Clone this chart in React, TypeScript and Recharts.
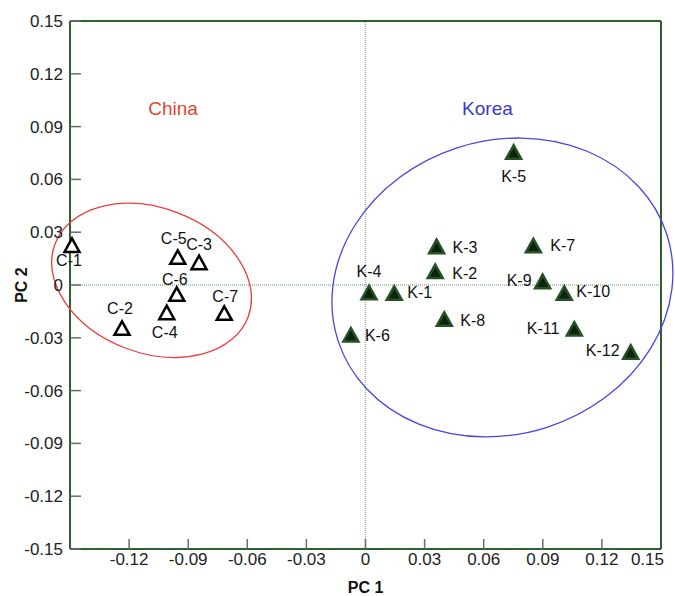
import { ScatterChart, Scatter, XAxis, YAxis, ReferenceLine } from "recharts";

// PCA scores
const CHINA_NAMES = ["C-1", "C-2", "C-3", "C-4", "C-5", "C-6", "C-7"];
const CHINA_PC1 = [-0.149, -0.1236, -0.0845, -0.1009, -0.0953, -0.0958, -0.0717];
const CHINA_PC2 = [0.0225, -0.0246, 0.0127, -0.0157, 0.0157, -0.0053, -0.0161];

const KOREA_NAMES = ["K-1", "K-2", "K-3", "K-4", "K-5", "K-6", "K-7", "K-8", "K-9", "K-10", "K-11", "K-12"];
const KOREA_PC1 = [0.0146, 0.0354, 0.0361, 0.0018, 0.0752, -0.0074, 0.0852, 0.04, 0.0899, 0.1009, 0.106, 0.1346];
const KOREA_PC2 = [-0.0047, 0.0076, 0.0218, -0.0044, 0.0754, -0.0284, 0.0223, -0.0195, 0.0019, -0.0047, -0.025, -0.0382];

const X_TICKS = [-0.12, -0.09, -0.06, -0.03, 0, 0.03, 0.06, 0.09, 0.12, 0.15];
const Y_TICKS = [-0.15, -0.12, -0.09, -0.06, -0.03, 0, 0.03, 0.06, 0.09, 0.12, 0.15];

// group regions: centre in PC units, semi-axes in PC1 units, tilt in degrees
const CHINA_REGION = [{ x: -0.1086, y: 0.0026, a: 0.0524, b: 0.0368, angle: 20.7 }];
const KOREA_REGION = [{ x: 0.0695, y: -0.0014, a: 0.0877, b: 0.0745, angle: -18 }];

const GROUP_TITLES = [
  { x: -0.0977, y: 0.1003, name: "China" },
  { x: 0.0619, y: 0.1003, name: "Korea" },
];

// label offsets (px) relative to each marker
const LABEL_OFFSET: Record<string, [number, number]> = {
  "C-1": [-3, 21],
  "C-2": [-2, -14],
  "C-3": [0, -13],
  "C-4": [-2, 25],
  "C-5": [-4, -13],
  "C-6": [-2, -9],
  "C-7": [1, -11],
  "K-1": [13, 5],
  "K-2": [17, 7],
  "K-3": [16, 6],
  "K-4": [0, -16],
  "K-5": [0, 30],
  "K-6": [14, 6],
  "K-7": [17, 5],
  "K-8": [16, 7],
  "K-9": [-11, 4],
  "K-10": [12, 4],
  "K-11": [-15, 5],
  "K-12": [-11, 4],
};

const W = 675;
const H = 596;
const MARGIN = { top: 20, right: 13, bottom: 0, left: 8 };
const Y_AXIS_W = 62;
const X_AXIS_H = 47;
const PLOT_W = W - MARGIN.left - MARGIN.right - Y_AXIS_W - 1;

const FRAME = "#2f5f2f";
const TICK = "#6a6a6a";
const RED = "#ee3b3b";
const BLUE = "#4646dc";

const china = CHINA_NAMES.map((name, i) => ({ name, x: CHINA_PC1[i], y: CHINA_PC2[i] }));
const korea = KOREA_NAMES.map((name, i) => ({ name, x: KOREA_PC1[i], y: KOREA_PC2[i] }));

const fmt = (v: number) => (v === 0 ? "0" : v.toFixed(2));

function triangle(cx: number, cy: number) {
  return `M${cx},${cy - 7}L${cx + 7.5},${cy + 6.5}L${cx - 7.5},${cy + 6.5}Z`;
}

function pointLabel(cx: number, cy: number, name: string) {
  const [dx, dy] = LABEL_OFFSET[name] ?? [0, -12];
  const anchor = Math.abs(dx) < 6 ? "middle" : dx > 0 ? "start" : "end";
  return (
    <text x={cx + dx} y={cy + dy} textAnchor={anchor} fontSize={16} fill="#111">
      {name}
    </text>
  );
}

const ChinaShape = (props: any) => {
  const { cx, cy, payload } = props;
  return (
    <g>
      <path d={triangle(cx, cy)} fill="#fff" stroke="#000" strokeWidth={2.5} />
      {pointLabel(cx, cy, payload.name)}
    </g>
  );
};

const KoreaShape = (props: any) => {
  const { cx, cy, payload } = props;
  return (
    <g>
      <path d={triangle(cx, cy)} fill="#0d230d" stroke="#255225" strokeWidth={2.5} />
      {pointLabel(cx, cy, payload.name)}
    </g>
  );
};

const regionShape = (color: string) => (props: any) => {
  const { cx, cy, payload } = props;
  const k = PLOT_W / 0.3;
  return (
    <ellipse
      cx={cx}
      cy={cy}
      rx={payload.a * k}
      ry={payload.b * k}
      transform={`rotate(${payload.angle} ${cx} ${cy})`}
      fill="none"
      stroke={color}
      strokeWidth={1.3}
    />
  );
};

const TitleShape = (props: any) => {
  const { cx, cy, payload } = props;
  return (
    <text x={cx} y={cy} dy="0.35em" textAnchor="middle" fontSize={19} fill={payload.name === "China" ? "#e0452f" : "#3a3acc"}>
      {payload.name}
    </text>
  );
};

const XTick = (props: any) => {
  const { x, y, payload } = props;
  const last = payload.value === X_TICKS[X_TICKS.length - 1];
  return (
    <text x={last ? x + 3 : x} y={y} dy="0.71em" textAnchor={last ? "end" : "middle"} fontSize={17} fill="#222">
      {fmt(payload.value)}
    </text>
  );
};

const YTitle = (props: any) => {
  const vb = props.viewBox;
  const x = vb.x + 13;
  const y = vb.y + vb.height / 2;
  return (
    <text x={x} y={y} transform={`rotate(-90 ${x} ${y})`} textAnchor="middle" dy="0.35em" fontSize={16} fontWeight={700} fill="#111">
      PC 2
    </text>
  );
};

export default function App() {
  return (
    <div style={{ position: "absolute", left: 0, top: 0, background: "#fff", fontFamily: "'Liberation Sans', Arial, sans-serif" }}>
      <ScatterChart width={W} height={H} margin={MARGIN}>
        <XAxis
          xAxisId="b"
          type="number"
          dataKey="x"
          domain={[-0.15, 0.15]}
          ticks={X_TICKS}
          interval={0}
          height={X_AXIS_H}
          tickSize={-10}
          tickMargin={14}
          axisLine={{ stroke: FRAME, strokeWidth: 2 }}
          tickLine={{ stroke: TICK, strokeWidth: 1.5 }}
          tick={<XTick />}
          label={{ value: "PC 1", position: "insideBottom", offset: 3, fontSize: 16, fontWeight: 700, fill: "#111" }}
        />
        <XAxis
          xAxisId="t"
          orientation="top"
          type="number"
          domain={[-0.15, 0.15]}
          allowDataOverflow
          ticks={X_TICKS}
          interval={0}
          height={1}
          tickSize={-10}
          tick={false}
          axisLine={{ stroke: FRAME, strokeWidth: 2 }}
          tickLine={{ stroke: TICK, strokeWidth: 1.5 }}
        />
        <YAxis
          yAxisId="l"
          type="number"
          dataKey="y"
          domain={[-0.15, 0.15]}
          ticks={Y_TICKS}
          interval={0}
          tickFormatter={fmt}
          width={Y_AXIS_W}
          tickSize={-11}
          tickMargin={18}
          axisLine={{ stroke: FRAME, strokeWidth: 2 }}
          tickLine={{ stroke: TICK, strokeWidth: 1.5 }}
          tick={{ fill: "#222", fontSize: 17 }}
          label={<YTitle />}
        />
        <YAxis
          yAxisId="r"
          orientation="right"
          type="number"
          domain={[-0.15, 0.15]}
          allowDataOverflow
          ticks={Y_TICKS}
          interval={0}
          width={1}
          tickSize={-10}
          tick={false}
          axisLine={{ stroke: FRAME, strokeWidth: 2 }}
          tickLine={{ stroke: TICK, strokeWidth: 1.5 }}
        />
        <ReferenceLine xAxisId="b" yAxisId="l" x={0} stroke="#9bb49b" strokeDasharray="1 1" strokeWidth={1.5} />
        <ReferenceLine xAxisId="b" yAxisId="l" y={0} stroke="#9bb49b" strokeDasharray="1 1" strokeWidth={1.5} />
        <Scatter xAxisId="b" yAxisId="l" data={CHINA_REGION} shape={regionShape(RED)} isAnimationActive={false} />
        <Scatter xAxisId="b" yAxisId="l" data={KOREA_REGION} shape={regionShape(BLUE)} isAnimationActive={false} />
        <Scatter xAxisId="b" yAxisId="l" data={GROUP_TITLES} shape={TitleShape} isAnimationActive={false} />
        <Scatter xAxisId="b" yAxisId="l" name="China" data={china} shape={ChinaShape} isAnimationActive={false} />
        <Scatter xAxisId="b" yAxisId="l" name="Korea" data={korea} shape={KoreaShape} isAnimationActive={false} />
      </ScatterChart>
    </div>
  );
}
